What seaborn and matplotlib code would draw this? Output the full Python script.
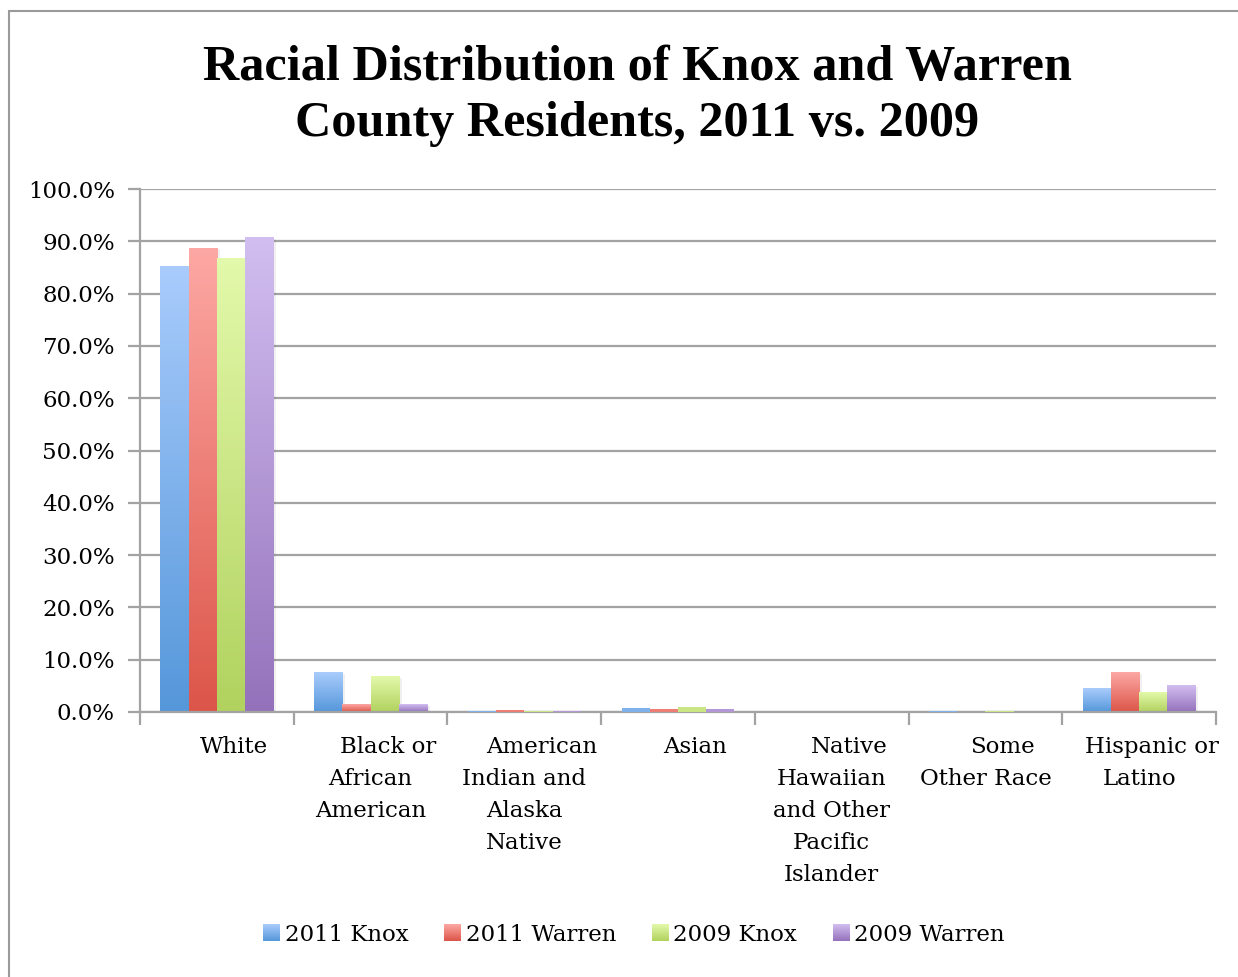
import numpy as np
import pandas as pd
import matplotlib
matplotlib.use("Agg")
import matplotlib.pyplot as plt
import matplotlib.colors as mcolors
import matplotlib.patheffects as pe
from matplotlib.transforms import blended_transform_factory
from matplotlib.patches import Rectangle
from matplotlib.legend_handler import HandlerBase
import seaborn as sns

# Share of residents by race (percent)
categories = ["White", "Black or African American", "American Indian and Alaska Native",
              "Asian", "Native Hawaiian and Other Pacific Islander", "Some Other Race",
              "Hispanic or Latino"]
label_lines = [["White"], ["Black or", "African", "American"],
               ["American", "Indian and", "Alaska", "Native"], ["Asian"],
               ["Native", "Hawaiian", "and Other", "Pacific", "Islander"],
               ["Some", "Other Race"], ["Hispanic or", "Latino"]]
series_names = ["2011 Knox", "2011 Warren", "2009 Knox", "2009 Warren"]
knox_2011 = [85.3, 7.6, 0.2, 0.7, 0.0, 0.1, 4.5]
warren_2011 = [88.7, 1.5, 0.3, 0.5, 0.0, 0.0, 7.6]
knox_2009 = [86.8, 6.8, 0.2, 0.9, 0.0, 0.1, 3.8]
warren_2009 = [90.8, 1.5, 0.2, 0.5, 0.0, 0.0, 5.1]
yticks = [0, 10, 20, 30, 40, 50, 60, 70, 80, 90, 100]

# gradient (top, bottom) colours per series
grad = {
    "2011 Knox": ("#a9ccfc", "#5597da"),
    "2011 Warren": ("#fda8a4", "#dc5549"),
    "2009 Knox": ("#e3f9ab", "#b1d25e"),
    "2009 Warren": ("#d2bef0", "#9472bb"),
}

rows = []
for name, vals in zip(series_names, [knox_2011, warren_2011, knox_2009, warren_2009]):
    for cat, v in zip(categories, vals):
        rows.append({"Race": cat, "Series": name, "Percent": v})
df = pd.DataFrame(rows)

sns.set_theme(style="white")
plt.rcParams["font.family"] = ["DejaVu Serif"]
plt.rcParams["text.color"] = "black"

W, H = 1238, 977
fig = plt.figure(figsize=(W / 100, H / 100), dpi=100)
fig.patch.set_facecolor("white")

# chart area frame
fig.add_artist(Rectangle((8.5 / W, -0.1), 1.2, 1 - 10.5 / H + 0.1, transform=fig.transFigure,
                         fill=False, edgecolor="#9a9a9a", linewidth=1.5))

ax = fig.add_axes([140 / W, 1 - 712 / H, (1216 - 140) / W, (712 - 189) / H])
palette = {k: v[1] for k, v in grad.items()}
sns.barplot(data=df, x="Race", y="Percent", hue="Series", order=categories,
            hue_order=series_names, palette=palette, width=0.735, dodge=True,
            saturation=1, ax=ax, legend=False, errorbar=None, zorder=3)


def gradient_cmap(name):
    top, bot = grad[name]
    return mcolors.LinearSegmentedColormap.from_list(name, [bot, top])


# replace flat fills with vertical gradients
grid = "#a3a3a3"
series_of_patch = []
for name in series_names:
    series_of_patch += [name] * len(categories)
for patch, name in zip(ax.patches, series_of_patch):
    x0, y0 = patch.get_x(), patch.get_y()
    w, h = patch.get_width(), patch.get_height()
    if h <= 0:
        patch.set_visible(False)
        continue
    if h < 1.0:
        # very short bars keep a flat fill
        patch.set_facecolor(mcolors.to_hex(np.mean([mcolors.to_rgb(c) for c in grad[name]], axis=0)))
        patch.set_edgecolor("none")
        patch.set_zorder(5)
        continue
    img = ax.imshow(np.linspace(0, 1, 256).reshape(-1, 1), cmap=gradient_cmap(name),
                    aspect="auto", extent=(x0, x0 + w, y0, y0 + h), origin="lower",
                    zorder=3.5, interpolation="bilinear")
    img.set_clip_path(patch)
    patch.set_edgecolor("none")
    patch.set_path_effects([pe.SimplePatchShadow(offset=(2, -1), shadow_rgbFace="#000000",
                                                 alpha=0.06), pe.Normal()])
ax.set_xlim(-0.5, len(categories) - 0.5)
ax.set_ylim(0, 100)

# axes styling
ax.set_yticks(yticks)
ax.set_yticklabels([f"{t:.1f}%" for t in yticks], fontsize=16.5, color="black")
ax.yaxis.grid(True, color=grid, linewidth=1.6, zorder=0)
ax.set_axisbelow(True)
for side in ["top", "right"]:
    ax.spines[side].set_visible(False)
for side in ["left", "bottom"]:
    ax.spines[side].set_color(grid)
    ax.spines[side].set_linewidth(1.6)
    ax.spines[side].set_zorder(4)
ax.tick_params(axis="y", left=True, length=9, width=1.6, color=grid, pad=9)
ax.set_xticks(np.arange(-0.5, len(categories) + 0.5, 1))
ax.set_xticklabels([])
ax.tick_params(axis="x", bottom=True, length=9, width=1.6, color=grid)
ax.set_xlabel("")
ax.set_ylabel("")

# category labels, one text per wrapped line
tr = blended_transform_factory(ax.transData, fig.transFigure)
for i, lines in enumerate(label_lines):
    for j, line in enumerate(lines):
        dx = 0.0
        if j == 0:
            dx = 0.08 if i == len(label_lines) - 1 else 0.113
        ypx = 747 + 32 * j
        ax.text(i + dx, 1 - ypx / H, line, transform=tr, ha="center", va="center",
                fontsize=16.5, color="black", clip_on=False)

# title
fig.text(637 / W, 1 - 68 / H, "Racial Distribution of Knox and Warren",
         ha="center", va="center", fontsize=36.2, fontweight="bold",
         family="Liberation Serif", color="black")
fig.text(637 / W, 1 - 124 / H, "County Residents, 2011 vs. 2009",
         ha="center", va="center", fontsize=36.2, fontweight="bold",
         family="Liberation Serif", color="black")


class GradientSquare(HandlerBase):
    def create_artists(self, legend, orig_handle, xdescent, ydescent, width, height,
                       fontsize, trans):
        from matplotlib.image import BboxImage
        from matplotlib.transforms import Bbox, TransformedBbox
        side = height
        x0 = xdescent * -1 + (width - side) / 2
        bb = Bbox.from_bounds(x0, -ydescent, side, side)
        img = BboxImage(TransformedBbox(bb, trans), cmap=gradient_cmap(orig_handle.get_label()),
                        interpolation="bilinear", origin="lower")
        img.set_data(np.linspace(0, 1, 64).reshape(-1, 1))
        return [img]


# legend
handles = [Rectangle((0, 0), 1, 1, facecolor=grad[n][1], edgecolor="none", label=n)
           for n in series_names]
leg = fig.legend(handles, series_names, loc="center", bbox_to_anchor=(634 / W, 1 - 935 / H),
                 ncol=4, frameon=False, fontsize=16.5, handlelength=0.7, handleheight=0.7,
                 handletextpad=0.25, columnspacing=1.55,
                 handler_map={Rectangle: GradientSquare()})

fig.savefig("out.png", dpi=100, facecolor="white")
